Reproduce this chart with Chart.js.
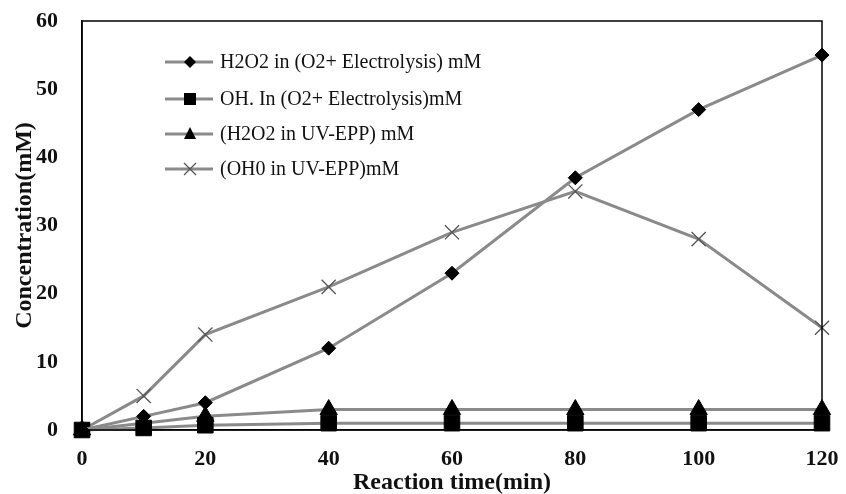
<!DOCTYPE html>
<html><head><meta charset="utf-8">
<script src="https://cdn.jsdelivr.net/npm/chart.js@4.4.0/dist/chart.umd.min.js"></script>
<style>html,body{margin:0;padding:0;background:#fff}#wrap{width:846px;height:494px}</style>
</head><body><div id="wrap"><canvas id="c" width="846" height="494"></canvas></div>
<script>
const times = [0, 10, 20, 40, 60, 80, 100, 120];
const h2o2Electro = [0, 2, 4, 12, 23, 37, 47, 55];
const ohElectro = [0, 0.3, 0.7, 1, 1, 1, 1, 1];
const h2o2UV = [0, 1, 2, 3, 3, 3, 3, 3];
const ohUV = [0, 5, 14, 21, 29, 35, 28, 15];
const seriesLabels = [
  'H2O2 in (O2+ Electrolysis) mM',
  'OH. In (O2+ Electrolysis)mM',
  '(H2O2 in UV-EPP) mM',
  '(OH0 in UV-EPP)mM'
];
const xTitle = 'Reaction time(min)';
const yTitle = 'Concentration(mM)';

const LINE = '#8a8a8a';
const pts = arr => times.map((t, i) => ({x: t, y: arr[i]}));

function mk(label, data, style, radius, color, bw) {
  return {
    label, data: pts(data), borderColor: LINE, borderWidth: 3,
    pointStyle: style, pointRadius: radius, pointHoverRadius: radius,
    pointBackgroundColor: color, pointBorderColor: color, pointBorderWidth: bw,
    tension: 0, clip: false
  };
}

const frame = {
  id: 'frame',
  afterDatasetsDraw(chart) {
    const {ctx, chartArea: a} = chart;
    ctx.save();
    ctx.strokeStyle = '#000';
    ctx.lineWidth = 1.5;
    ctx.strokeRect(a.left, a.top, a.right - a.left, a.bottom - a.top);
    ctx.restore();
  }
};

const legendPlugin = {
  id: 'customLegend',
  afterDraw(chart) {
    const ctx = chart.ctx;
    const rows = [62, 99, 134, 169];
    ctx.save();
    chart.data.datasets.forEach((ds, i) => {
      const y = rows[i];
      ctx.strokeStyle = LINE; ctx.lineWidth = 3;
      ctx.beginPath(); ctx.moveTo(165, y); ctx.lineTo(213, y); ctx.stroke();
      const cx = 190;
      ctx.fillStyle = '#000'; ctx.strokeStyle = '#000';
      ctx.beginPath();
      if (ds.pointStyle === 'rectRot') {
        ctx.moveTo(cx, y - 6); ctx.lineTo(cx + 6, y); ctx.lineTo(cx, y + 6); ctx.lineTo(cx - 6, y); ctx.closePath(); ctx.fill();
      } else if (ds.pointStyle === 'rect') {
        ctx.rect(cx - 6, y - 6, 12, 12); ctx.fill();
      } else if (ds.pointStyle === 'triangle') {
        ctx.moveTo(cx, y - 7); ctx.lineTo(cx + 6, y + 5); ctx.lineTo(cx - 6, y + 5); ctx.closePath(); ctx.fill();
      } else {
        ctx.strokeStyle = '#555'; ctx.lineWidth = 1.3;
        ctx.moveTo(cx - 6, y - 6); ctx.lineTo(cx + 6, y + 6); ctx.moveTo(cx + 6, y - 6); ctx.lineTo(cx - 6, y + 6); ctx.stroke();
      }
      ctx.fillStyle = '#111';
      ctx.font = '20px "Liberation Serif", "Times New Roman", serif';
      ctx.textBaseline = 'middle'; ctx.textAlign = 'left';
      ctx.fillText(ds.label, 220, y + 1);
    });
    ctx.restore();
  }
};

new Chart(document.getElementById('c'), {
  type: 'line',
  data: {
    datasets: [
      mk(seriesLabels[0], h2o2Electro, 'rectRot', 7, '#000', 1),
      mk(seriesLabels[1], ohElectro, 'rect', 11, '#000', 1),
      mk(seriesLabels[2], h2o2UV, 'triangle', 10, '#000', 1),
      mk(seriesLabels[3], ohUV, 'crossRot', 10, '#555', 1.3)
    ]
  },
  options: {
    responsive: false, animation: false,
    layout: {autoPadding: false, padding: {top: 21, right: 24, left: 0, bottom: -3}},
    plugins: {legend: {display: false}, tooltip: {enabled: false}},
    scales: {
      x: {
        type: 'linear', min: 0, max: 120,
        afterFit(s) { s.height = 67; s.paddingLeft = 0; s.paddingRight = 0; },
        grid: {display: false, drawTicks: false},
        border: {display: true, color: '#000', width: 1.5},
        ticks: {stepSize: 20, padding: 16, color: '#111', font: {family: '"Liberation Serif", serif', size: 22, weight: 'bold'}},
        title: {display: true, text: xTitle, color: '#111', padding: {top: 0, bottom: 0}, font: {family: '"Liberation Serif", serif', size: 24, weight: 'bold'}}
      },
      y: {
        min: 0, max: 60,
        afterFit(s) { s.width = 82; s.paddingTop = 0; s.paddingBottom = 0; },
        grid: {display: false, drawTicks: false},
        border: {display: true, color: '#000', width: 1.5},
        ticks: {stepSize: 10, padding: 24, color: '#111', font: {family: '"Liberation Serif", serif', size: 22, weight: 'bold'}},
        title: {display: true, text: yTitle, color: '#111', padding: {top: 10, bottom: 0}, font: {family: '"Liberation Serif", serif', size: 24, weight: 'bold'}}
      }
    }
  },
  plugins: [frame, legendPlugin]
});
</script>
</body></html>
